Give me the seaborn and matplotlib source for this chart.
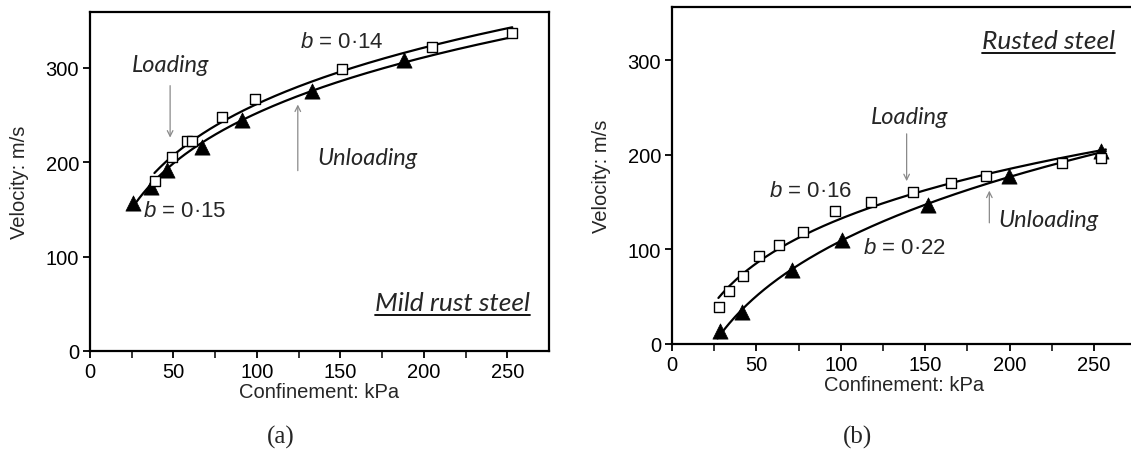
import numpy as np
import pandas as pd
import matplotlib
matplotlib.use("Agg")
import matplotlib.pyplot as plt
from matplotlib.lines import Line2D
import seaborn as sns

# ---- (a) mild rust steel ----
a_load_p = [39, 49, 58, 61, 79, 99, 151, 205, 253]
a_load_v = [180, 205, 222, 222, 248, 267, 299, 322, 337]
a_unload_p = [25.5, 36.5, 46, 67, 91, 133, 188]
a_unload_v = [157, 174, 192, 216, 245, 275, 308]
a_b_load = 0.14
a_b_unload = 0.15
a_span_load = (38.6, 253)
a_span_unload = (25, 253)

# ---- (b) rusted steel ----
b_load_p = [27.8, 33.6, 41.8, 51.4, 63.6, 77.5, 96.4, 118, 142.5, 165, 186, 231, 254]
b_load_v = [39.5, 55.8, 71.7, 92.5, 104.8, 118, 140, 150, 161, 170, 178, 191, 197]
b_unload_p = [28.7, 41.6, 71, 101, 151.5, 199.7, 254]
b_unload_v = [14, 33.5, 77.7, 109.5, 146.5, 177, 204]
b_b_load = 0.16
b_b_unload = 0.22
b_span_load = (27.5, 257)
b_span_unload = (27, 257)

x_ticks = [0, 50, 100, 150, 200, 250]
y_ticks = [0, 100, 200, 300]

sns.set_style("ticks")
plt.rcParams["font.family"] = ["Liberation Sans", "DejaVu Sans"]
plt.rcParams["mathtext.fontset"] = "custom"
plt.rcParams["mathtext.it"] = "Liberation Sans:italic"
plt.rcParams["mathtext.rm"] = "Liberation Sans"

fig = plt.figure(figsize=(11.31, 4.52), dpi=100)
W, H = 1131, 452


def px_axes(left, top, right, bottom):
    return fig.add_axes([left / W, (H - bottom) / H, (right - left) / W, (bottom - top) / H])


def power_fit(p, v, b, span):
    """Least-squares fit of V = c + k * p**b for a fixed exponent b."""
    p = np.asarray(p, float)
    v = np.asarray(v, float)
    k, c = np.polyfit(p ** b, v, 1)
    xs = np.linspace(span[0], span[1], 200)
    return pd.DataFrame({"p": xs, "v": c + k * xs ** b})


def draw_panel(ax, lp, lv, bl, sl, up, uv, bu, su, xmax, ymax):
    for p, v, b, s in ((lp, lv, bl, sl), (up, uv, bu, su)):
        sns.lineplot(data=power_fit(p, v, b, s), x="p", y="v", ax=ax,
                     color="black", linewidth=1.6, zorder=2)
    sns.scatterplot(x=up, y=uv, ax=ax, marker="^", s=120, color="black",
                    edgecolor="black", linewidth=0.5, zorder=3)
    sns.scatterplot(x=lp, y=lv, ax=ax, marker="s", s=50, color="white",
                    edgecolor="black", linewidth=1.0, zorder=4)
    ax.set_xlim(0, xmax)
    ax.set_ylim(0, ymax)
    ax.set_xticks(x_ticks)
    ax.set_xticks(np.arange(25, xmax, 50), minor=True)
    ax.set_yticks(y_ticks)
    ax.tick_params(axis="both", which="major", direction="out", length=5,
                   width=1.3, labelsize=14.5, pad=3, colors="black")
    ax.tick_params(axis="x", which="minor", direction="out", length=5, width=1.3)
    ax.set_xlabel("Confinement: kPa", fontsize=14.5, labelpad=1)
    ax.set_ylabel("Velocity: m/s", fontsize=14.5, labelpad=12)
    for sp in ax.spines.values():
        sp.set_color("black")
        sp.set_linewidth(1.6)


def arrow(ax, x, y0, y1):
    ax.annotate("", xy=(x, y1), xytext=(x, y0),
                arrowprops=dict(arrowstyle="->", color="#8a8a8a", lw=0.9,
                                mutation_scale=10, shrinkA=0, shrinkB=0))


italic_font = dict(family=["Lato", "DejaVu Sans"], style="italic")

# panel (a)
ax1 = px_axes(90, 13, 549, 352)
draw_panel(ax1, a_load_p, a_load_v, a_b_load, a_span_load,
           a_unload_p, a_unload_v, a_b_unload, a_span_unload, 275, 359)
ax1.text(48, 303, "Loading", fontsize=17, ha="center", va="center", **italic_font)
arrow(ax1, 48, 281, 226)
ax1.text(166, 205, "Unloading", fontsize=17, ha="center", va="center", **italic_font)
arrow(ax1, 124.5, 191, 261)
ax1.text(151, 328, r"$b$ = 0·14", fontsize=16, ha="center", va="center")
ax1.text(57, 149, r"$b$ = 0·15", fontsize=16, ha="center", va="center")
t1 = ax1.text(217, 51, "Mild rust steel", fontsize=19, ha="center", va="center", **italic_font)

# panel (b)
ax2 = px_axes(672, 8, 672 + 275 * 1.688, 345)
draw_panel(ax2, b_load_p, b_load_v, b_b_load, b_span_load,
           b_unload_p, b_unload_v, b_b_unload, b_span_unload, 275, 356)
ax2.text(140.5, 240, "Loading", fontsize=17, ha="center", va="center", **italic_font)
arrow(ax2, 139, 222, 172)
ax2.text(223, 132, "Unloading", fontsize=17, ha="center", va="center", **italic_font)
arrow(ax2, 188, 128, 162)
ax2.text(82, 162, r"$b$ = 0·16", fontsize=16, ha="center", va="center")
ax2.text(137.5, 102, r"$b$ = 0·22", fontsize=16, ha="center", va="center")
t2 = ax2.text(223, 321, "Rusted steel", fontsize=19, ha="center", va="center", **italic_font)

fig.text(281 / W, 1 - 437 / H, "(a)", fontsize=18, family="Liberation Serif",
         ha="center", va="center")
fig.text(858 / W, 1 - 437 / H, "(b)", fontsize=18, family="Liberation Serif",
         ha="center", va="center")

# underline the material captions
fig.canvas.draw()
renderer = fig.canvas.get_renderer()
for t in (t1, t2):
    bb = t.get_window_extent(renderer)
    y = bb.y0 - 1
    fig.add_artist(Line2D([bb.x0 / W, bb.x1 / W], [y / H, y / H],
                          transform=fig.transFigure, color="black", lw=1.3))

fig.savefig("out.png", dpi=100)
